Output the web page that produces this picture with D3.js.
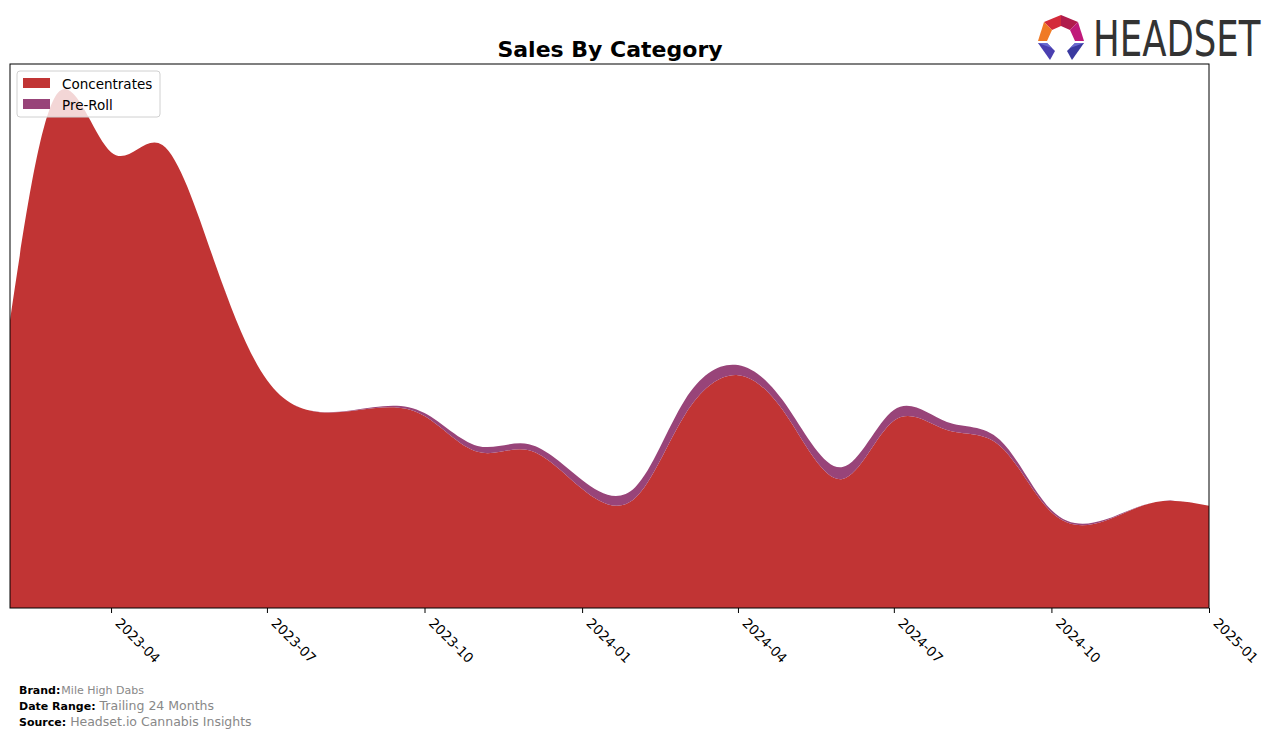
<!DOCTYPE html>
<html>
<head>
<meta charset="utf-8">
<script src="https://cdn.jsdelivr.net/npm/d3@7/dist/d3.min.js"></script>
<style>
  html, body { margin: 0; padding: 0; background: #fff; }
  svg { display: block; font-family: "DejaVu Sans", sans-serif; }
</style>
</head>
<body>
<svg id="chart" width="1276" height="738"></svg>
<script>
// ---- data ----
const months = ["2023-02","2023-03","2023-04","2023-05","2023-06","2023-07","2023-08","2023-09",
  "2023-10","2023-11","2023-12","2024-01","2024-02","2024-03","2024-04","2024-05","2024-06",
  "2024-07","2024-08","2024-09","2024-10","2024-11","2024-12","2025-01"];
const concentrates = [52.9, 94.7, 83.8, 85.1, 63.1, 41.9, 36.0, 36.7, 35.3, 28.7, 29.0, 21.9,
  20.2, 35.5, 42.8, 34.6, 23.7, 34.4, 32.7, 29.8, 17.6, 16.0, 19.5, 18.8];
const preRoll = [0.0, 0.0, 0.0, 0.0, 0.0, 0.0, 0.05, 0.2, 0.55, 1.1, 1.1, 1.65,
  2.0, 2.75, 1.85, 1.85, 2.2, 2.0, 1.5, 1.1, 0.4, 0.2, 0.0, 0.0];
const seriesNames = ["Concentrates", "Pre-Roll"];
const seriesColors = ["#c13434", "#984479"];
const tickLabels = ["2023-04","2023-07","2023-10","2024-01","2024-04","2024-07","2024-10","2025-01"];
const yMax = 100;

// ---- layout ----
const svg = d3.select("#chart");
const L = 10, R = 1209, T = 64, B = 608;
const parse = d3.utcParse("%Y-%m");
const x = d3.scaleUtc().domain([parse(months[0]), parse(months[months.length-1])]).range([L, R]);
const y = d3.scaleLinear().domain([0, yMax]).range([B, T]);

const rows = months.map((m, i) => ({date: parse(m), Concentrates: concentrates[i], "Pre-Roll": preRoll[i]}));
const stack = d3.stack().keys(seriesNames)(rows);

const area = d3.area()
  .x(d => x(d.data.date))
  .y0(d => y(d[0]))
  .y1(d => y(d[1]))
  .curve(d3.curveNatural);

svg.append("defs").append("clipPath").attr("id", "clip")
  .append("rect").attr("x", L).attr("y", T).attr("width", R - L).attr("height", B - T);

const g = svg.append("g").attr("clip-path", "url(#clip)");
g.selectAll("path.layer").data(stack).join("path")
  .attr("class", "layer")
  .attr("fill", (d, i) => seriesColors[i])
  .attr("d", area);

// frame
svg.append("rect").attr("x", L).attr("y", T).attr("width", R - L).attr("height", B - T)
  .attr("fill", "none").attr("stroke", "#000").attr("stroke-width", 1);

// x axis
const xAxis = d3.axisBottom(x)
  .tickValues(tickLabels.map(parse))
  .tickFormat(d3.utcFormat("%Y-%m"))
  .tickSize(5).tickPadding(4);
const ax = svg.append("g").attr("transform", `translate(0,${B})`).call(xAxis);
ax.select(".domain").remove();
ax.selectAll(".tick line").attr("stroke", "#000");
ax.selectAll(".tick text")
  .attr("font-size", 13.5).attr("fill", "#000")
  .attr("font-family", "DejaVu Sans, sans-serif")
  .attr("text-anchor", "start")
  .attr("dy", null)
  .attr("y", 0)
  .attr("transform", "translate(3,16) rotate(45)");

// title
svg.append("text").attr("x", 610).attr("y", 57).attr("text-anchor", "middle")
  .attr("font-size", 22).attr("font-weight", "bold").attr("fill", "#000")
  .text("Sales By Category");

// legend
const lg = svg.append("g");
lg.append("rect").attr("x", 17).attr("y", 71).attr("width", 143).attr("height", 46)
  .attr("rx", 3).attr("fill", "#fff").attr("fill-opacity", 0.8).attr("stroke", "#d0d0d0");
seriesNames.forEach((n, i) => {
  lg.append("rect").attr("x", 23).attr("y", 78 + i * 21).attr("width", 27).attr("height", 10)
    .attr("fill", seriesColors[i]);
  lg.append("text").attr("x", 62).attr("y", 89 + i * 21).attr("font-size", 13.5)
    .attr("fill", "#000").text(n);
});

// footer
const foot = [
  ["Brand:", "Mile High Dabs", 694, 11],
  ["Date Range:", "Trailing 24 Months", 710, 12.5],
  ["Source:", "Headset.io Cannabis Insights", 726, 12.5]
];
foot.forEach(([lab, val, yy, fs]) => {
  const t = svg.append("text").attr("x", 19).attr("y", yy).attr("font-size", 11);
  t.append("tspan").attr("font-weight", "bold").attr("fill", "#000").text(lab);
  t.append("tspan").attr("fill", "#888").attr("font-size", fs).attr("dx", lab === "Brand:" ? 1 : 4).text(val);
});

// logo
const logo = svg.append("g");
const polys = [
  {pts: [[1044,22],[1061,15],[1061,26],[1052,30]], c: "#d42a3a"},
  {pts: [[1061,15],[1078,22],[1070,30],[1061,26]], c: "#b01c4c"},
  {pts: [[1078,22],[1084,41],[1075,41],[1070,30]], c: "#c01a7a"},
  {pts: [[1044,22],[1052,30],[1047,41],[1038,41]], c: "#f07a25"},
  {pts: [[1038,43],[1047,43],[1055,51],[1050,60]], c: "#4a3fb0"},
  {pts: [[1084,43],[1075,43],[1067,51],[1072,60]], c: "#3a3aa0"},
  {pts: [[1038,43],[1047,43],[1052,48]], c: "#6a6ad0"},
  {pts: [[1084,43],[1075,43],[1070,48]], c: "#6a6ad0"}
];
polys.forEach(p => logo.append("polygon").attr("points", p.pts.map(q => q.join(",")).join(" ")).attr("fill", p.c));
logo.append("g").attr("transform", "translate(1093,56) scale(0.725,1)")
  .append("text").attr("x", 0).attr("y", 0).attr("font-size", 49)
  .attr("font-family", "DejaVu Sans, sans-serif").attr("fill", "#333")
  .text("HEADSET");
</script>
</body>
</html>
